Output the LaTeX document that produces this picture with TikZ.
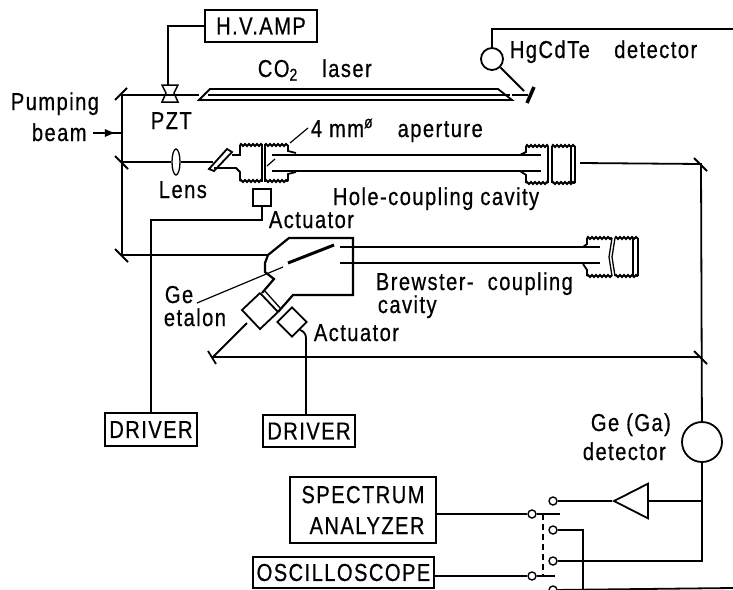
\documentclass[tikz,border=0pt]{standalone}
\usepackage{fontspec}
\setmainfont[LetterSpace=6,FakeStretch=0.82,FakeBold=0.6]{Liberation Sans}
\usetikzlibrary{arrows.meta,calc,positioning,shapes.geometric,decorations.pathmorphing}
\begin{document}
\begin{tikzpicture}[x=1pt,y=-1pt,>=Latex,line width=1.8pt,
  every node/.style={inner sep=0pt,font=\fontsize{24.5}{31}\selectfont},
  lbl/.style={anchor=base west},
  box/.style={draw,align=center},
  contact/.style={draw,circle,minimum size=8pt,line width=1.4pt},
  thread/.style={decorate,decoration={zigzag,amplitude=1pt,segment length=4pt}}]
\useasboundingbox (0,0) rectangle (733,589);
% boxes
\node[box,minimum width=112pt,minimum height=32pt] (hvamp) at (261,26) {H.V.AMP};
\node[box,minimum width=92pt,minimum height=33pt] (drvl) at (151,429.5) {DRIVER};
\node[box,minimum width=92pt,minimum height=32pt] (drvr) at (309,431) {DRIVER};
\node[box,minimum width=146pt,minimum height=66pt,align=right] (spec) at (363,510) {SPECTRUM\hspace{9pt}\\ANALYZER};
\node[box,minimum width=181pt,minimum height=31pt] (osc) at (343.5,572.5) {OSCILLOSCOPE};
% labels
\node[lbl] (co) at (257,77) {CO\textsubscript{2}\quad laser};
\node[lbl] (hgl) at (509,58) {HgCdTe\quad detector};
\node[lbl] (pztl) at (150,129) {PZT};
\node[lbl] (pump) at (10,110) {Pumping};
\node[lbl] (beam) at (31,141) {beam};
\node[lbl] (lensl) at (158,198) {Lens};
\node[lbl] (apl) at (310,137) {4 mm\textsuperscript{ø}\quad aperture};
\node[lbl] (hole) at (332,205) {Hole-coupling cavity};
\node[lbl] (act1l) at (268,228) {Actuator};
\node[lbl] (brew) at (375,290) {Brewster- \ coupling};
\node[lbl] (brew2) at (377,313) {cavity};
\node[lbl] (ge) at (164,303) {Ge};
\node[lbl] (etal) at (163,326) {etalon};
\node[lbl] (act2l) at (313,341) {Actuator};
\node[lbl] (gaga) at (590,431) {Ge (Ga)};
\node[lbl] (gedet) at (582,460) {detector};
% optics
\coordinate (m1) at (122,95);
\coordinate (m2) at (122,162);
\coordinate (m3) at (122,255);
\coordinate (m4) at (701,164);
\coordinate (m5) at (701,357);
\coordinate (m6) at (213,357);
\foreach \m in {m1}{\draw ([shift={(-7,5)}]\m) -- ([shift={(5,-7)}]\m);}
\foreach \m in {m2,m3,m4,m5}{\draw ([shift={(-7,-6)}]\m) -- ([shift={(6,7)}]\m);}
\draw ([shift={(-5,-6)}]m6) -- ([shift={(3,7)}]m6);
\node[draw,ellipse,minimum width=8pt,minimum height=26pt,line width=1.3pt] (lens) at (176,162) {};
\node[draw,circle,minimum size=22pt] (hgcd) at (492,59) {};
\node[draw,circle,minimum size=40pt] (gedt) at (702,442) {};
\node[draw,minimum width=18pt,minimum height=17pt] (act1) at (262,197.5) {};
\node[draw,diamond,minimum size=30pt] (act2) at (292,322) {};
\node[draw,isosceles triangle,isosceles triangle apex angle=54,shape border rotate=180,minimum height=34pt,anchor=apex] (amp) at (612,501) {};
\coordinate (pzt) at (170,95);
\coordinate (ge1) at (247,323);
\coordinate (cav1) at (580,163);
\node[contact] (c1) at (553,501) {};
\node[contact] (c2) at (553,530) {};
\node[contact] (c3) at (553,561) {};
\node[contact] (c4) at (553,590) {};
\node[contact] (s1) at (532,514) {};
\node[contact] (s2) at (532,576) {};
\coordinate (j1) at (702,501);
% beams
\draw (m1) -- (m3) -- (268,255);
\draw (m1) -- (199,95);
\draw (m2) -- (lens) -- (213,162);
\draw (93,133) -- (122,133);
\draw[->] (93,133) -- (116,133);
\draw (cav1) -- (m4) -- (gedt);
\draw (gedt) -- (j1) -- (702,561) -- (c3);
\draw (j1) -- (amp.east);
\draw (amp.apex) -- (c1);
\draw (spec.east |- s1) -- (s1);
\draw (osc.east |- s2) -- (s2);
\draw (s1) -- (560,514);
\draw (s2) -- (555,576);
\draw[dashed,dash pattern=on 6pt off 4pt] (543,514) -- (543,576);
\draw (c2) -- (583,530) -- (583,589);
\draw (c4) -- (733,588);
\draw (ge1) -- (m6) -- (m5);
\draw (hvamp) -| (168,85);
\draw (hgcd.north) |- (733,29);
\draw (hgcd) -- (524,91);
\draw (512,95) -- (528,95);
\draw[line width=3.5pt] (534,87) -- (527,103);
\draw (act1) -- (262,220) -| (drvl);
\draw (act2.south east) to[out=-20,in=90] (306,338) -- (306,415);
\draw[line width=1.2pt] (197,303) -- (283,267);
% pzt and laser
\draw[line width=1.5pt] (162,85) -- (178,85) -- (174,93) -- (178,102) -- (162,102) -- (166,93) -- cycle;
\draw (199,100) -- (210,89) -- (498,89) -- (512,100) -- cycle;
\draw[line width=1.3pt] (208,95) -- (510,95);
% hole-coupling cavity
\draw (209,169) -- (227,149) -- (232,152) -- (214,171) -- cycle;
\draw (232,155) -- (240,155) -- (240,145);
\draw (214,168) -- (236,168) -- (240,172) -- (240,181);
\draw[thread] (240,145) -- (262,145);
\draw[thread] (240,181) -- (262,181);
\draw[line width=1.3pt] (262,144) -- (262,182) (265,144) -- (265,182);
\draw[thread] (265,145) -- (288,145);
\draw[thread] (265,181) -- (288,181);
\draw (288,145) -- (288,151) -- (296,153);
\draw (288,181) -- (288,174) -- (296,172);
\draw (272,155) -- (541,155) (272,171) -- (541,171);
\draw[line width=1.2pt] (308,128) -- (290,143);
\draw[line width=1.2pt] (275,159) -- (267,166);
\draw (520,155) -- (526,152) -- (526,146);
\draw (520,171) -- (526,175) -- (526,183);
\draw[thread] (526,146) -- (548,146);
\draw[thread] (526,183) -- (548,183);
\draw[line width=1.3pt] (548,146) -- (548,183) (552,146) -- (552,183);
\draw[thread] (552,146) -- (575,146);
\draw[thread] (552,183) -- (575,183);
\draw[line width=1.3pt] (571,146) -- (571,183);
\draw (575,146) -- (575,183);
% brewster-coupling cavity
\draw[line width=2.2pt] (268,255) -- (289,238) -- (353,238) -- (353,295) -- (293,295) -- (278,312);
\draw[line width=2.2pt] (268,255) -- (265,263) -- (265,272) -- (274,279) -- (262,293);
\draw[line width=3pt] (288,263) -- (334,245);
\draw (340,247) -- (600,247) (340,263) -- (600,263);
\draw (260,293) -- (278,312);
\draw[line width=1.3pt] (264,290) -- (281,309);
\draw (260,293) -- (242,310) -- (260,329) -- (278,312);
\draw (583,247) -- (587,244) -- (587,238);
\draw (583,264) -- (587,270) -- (587,276);
\draw[thread] (587,238) -- (612,238);
\draw[thread] (587,276) -- (612,276);
\draw[line width=1.3pt] (612,238) -- (609,257) -- (612,276) (615,238) -- (612,257) -- (615,276);
\draw[thread] (615,238) -- (638,238);
\draw[thread] (615,276) -- (638,276);
\draw[line width=1.3pt] (633,238) -- (633,276);
\draw (638,238) -- (638,276);
\end{tikzpicture}
\end{document}
